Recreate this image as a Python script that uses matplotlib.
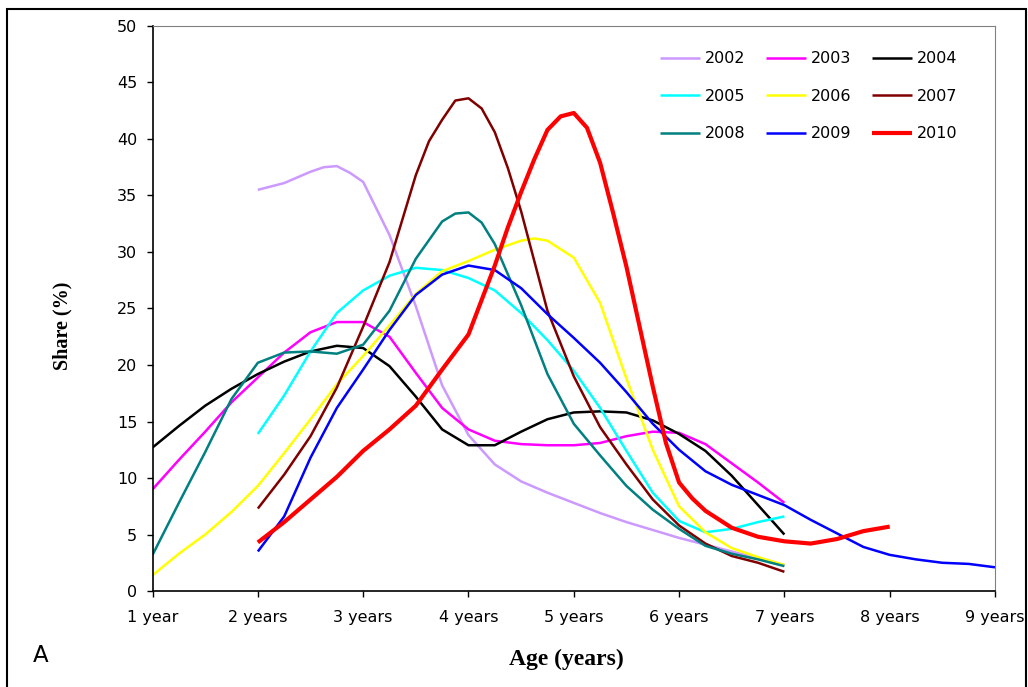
import matplotlib
matplotlib.use("Agg")
import matplotlib.pyplot as plt
from matplotlib.patches import Rectangle

plt.rcParams["font.family"] = ["DejaVu Sans"]

# ages (years) and shares (%)
a2002 = [2.0, 2.25, 2.5, 2.625, 2.75, 2.875, 3.0, 3.25, 3.5, 3.75, 4.0, 4.25, 4.5, 4.75, 5.0, 5.25,
         5.5, 5.75, 6.0, 6.25, 6.5, 6.75, 7.0]
s2002 = [35.5, 36.1, 37.1, 37.5, 37.6, 37.0, 36.2, 31.5, 25.2, 18.2, 13.8, 11.2, 9.7, 8.7, 7.8, 6.9,
         6.1, 5.4, 4.7, 4.1, 3.5, 2.9, 2.3]

a2003 = [1.0, 1.25, 1.5, 1.75, 2.0, 2.25, 2.5, 2.75, 3.0, 3.25, 3.5, 3.75, 4.0, 4.25, 4.5, 4.75,
         5.0, 5.25, 5.5, 5.75, 6.0, 6.25, 6.5, 6.75, 7.0]
s2003 = [9.0, 11.6, 14.1, 16.7, 18.9, 21.1, 22.9, 23.8, 23.8, 22.5, 19.3, 16.2, 14.3, 13.3, 13.0, 12.9,
         12.9, 13.1, 13.7, 14.1, 14.0, 13.0, 11.3, 9.6, 7.8]

a2004 = [1.0, 1.25, 1.5, 1.75, 2.0, 2.25, 2.5, 2.75, 3.0, 3.25, 3.5, 3.75, 4.0, 4.25, 4.5, 4.75,
         5.0, 5.25, 5.5, 5.75, 6.0, 6.25, 6.5, 6.75, 7.0]
s2004 = [12.7, 14.6, 16.4, 17.9, 19.2, 20.3, 21.2, 21.7, 21.5, 19.9, 17.2, 14.3, 12.9, 12.9, 14.1, 15.2,
         15.8, 15.9, 15.8, 15.1, 13.9, 12.4, 10.2, 7.6, 5.0]

a2005 = [2.0, 2.25, 2.5, 2.75, 3.0, 3.25, 3.5, 3.75, 4.0, 4.25, 4.5, 4.75, 5.0, 5.25, 5.5, 5.75,
         6.0, 6.25, 6.5, 6.75, 7.0]
s2005 = [13.9, 17.3, 21.2, 24.6, 26.6, 27.9, 28.6, 28.4, 27.7, 26.6, 24.6, 22.2, 19.5, 16.2, 12.4, 8.7,
         6.2, 5.2, 5.5, 6.1, 6.6]

a2006 = [1.0, 1.25, 1.5, 1.75, 2.0, 2.25, 2.5, 2.75, 3.0, 3.25, 3.5, 3.75, 4.0, 4.25, 4.5, 4.625, 4.75,
         5.0, 5.25, 5.5, 5.75, 6.0, 6.25, 6.5, 6.75, 7.0]
s2006 = [1.4, 3.3, 5.0, 7.0, 9.3, 12.2, 15.2, 18.3, 20.8, 23.5, 26.3, 28.3, 29.2, 30.2, 31.0, 31.2, 31.0,
         29.5, 25.5, 18.8, 12.5, 7.5, 5.2, 3.8, 3.0, 2.3]

a2007 = [2.0, 2.25, 2.5, 2.75, 3.0, 3.25, 3.5, 3.625, 3.75, 3.875, 4.0, 4.125, 4.25, 4.375, 4.5, 4.75,
         5.0, 5.25, 5.5, 5.75, 6.0, 6.25, 6.5, 6.75, 7.0]
s2007 = [7.3, 10.3, 13.7, 18.0, 23.4, 29.1, 36.8, 39.8, 41.7, 43.4, 43.6, 42.7, 40.6, 37.4, 33.6, 24.8,
         19.0, 14.5, 11.2, 8.1, 5.8, 4.2, 3.1, 2.5, 1.7]

a2008 = [1.0, 1.25, 1.5, 1.75, 2.0, 2.25, 2.5, 2.75, 3.0, 3.25, 3.5, 3.75, 3.875, 4.0, 4.125, 4.25,
         4.5, 4.75, 5.0, 5.25, 5.5, 5.75, 6.0, 6.25, 6.5, 6.75, 7.0]
s2008 = [3.2, 7.8, 12.3, 17.0, 20.2, 21.1, 21.2, 21.0, 21.8, 24.8, 29.4, 32.7, 33.4, 33.5, 32.6, 30.7,
         25.3, 19.2, 14.8, 12.0, 9.3, 7.2, 5.5, 4.0, 3.3, 2.8, 2.2]

a2009 = [2.0, 2.25, 2.5, 2.75, 3.0, 3.25, 3.5, 3.75, 4.0, 4.25, 4.5, 4.75, 5.0, 5.25, 5.5, 5.75,
         6.0, 6.25, 6.5, 6.75, 7.0, 7.25, 7.5, 7.75, 8.0, 8.25, 8.5, 8.75, 9.0]
s2009 = [3.5, 6.6, 11.8, 16.2, 19.6, 23.1, 26.2, 28.0, 28.8, 28.4, 26.8, 24.5, 22.4, 20.2, 17.6, 14.8,
         12.5, 10.6, 9.4, 8.5, 7.6, 6.3, 5.1, 3.9, 3.2, 2.8, 2.5, 2.4, 2.1]

a2010 = [2.0, 2.25, 2.5, 2.75, 3.0, 3.25, 3.5, 3.75, 4.0, 4.25, 4.375, 4.5, 4.625, 4.75, 4.875, 5.0,
         5.125, 5.25, 5.375, 5.5, 5.75, 5.875, 6.0, 6.125, 6.25, 6.5, 6.75, 7.0, 7.25, 7.5, 7.75, 8.0]
s2010 = [4.3, 6.1, 8.1, 10.1, 12.4, 14.3, 16.4, 19.6, 22.7, 28.8, 32.2, 35.3, 38.2, 40.8, 42.0, 42.3,
         41.0, 37.9, 33.4, 28.7, 18.1, 13.1, 9.6, 8.2, 7.1, 5.6, 4.8, 4.4, 4.2, 4.6, 5.3, 5.7]

series = [
    ("2002", a2002, s2002, "#CC99FF", 1.8),
    ("2003", a2003, s2003, "#FF00FF", 1.8),
    ("2004", a2004, s2004, "#000000", 1.8),
    ("2005", a2005, s2005, "#00FFFF", 1.8),
    ("2006", a2006, s2006, "#FFFF00", 1.8),
    ("2007", a2007, s2007, "#800000", 1.8),
    ("2008", a2008, s2008, "#008080", 1.8),
    ("2009", a2009, s2009, "#0000FF", 1.8),
    ("2010", a2010, s2010, "#FF0000", 3.0),
]

xticks = [1, 2, 3, 4, 5, 6, 7, 8, 9]
xlabels = ["1 year", "2 years", "3 years", "4 years", "5 years", "6 years", "7 years", "8 years", "9 years"]

fig = plt.figure(figsize=(10.28, 6.87), dpi=100)
ax = fig.add_axes([0.1484, 0.1397, 0.8195, 0.8225])

lines = []
for name, x, y, c, lw in series:
    l, = ax.plot(x, y, color=c, lw=lw, label=name, solid_joinstyle="round", solid_capstyle="butt")
    lines.append(l)

ax.set_xlim(1, 9)
ax.set_ylim(0, 50)
ax.set_yticks(range(0, 51, 5))
ax.set_xticks(xticks)
ax.set_xticklabels(xlabels)
ax.tick_params(direction="out", length=4, width=1, labelsize=11.5, color="black")
ax.tick_params(axis="x", pad=9.5)
ax.tick_params(axis="y", pad=7)
ax.spines[["top", "right"]].set_color("#808080")
ax.spines[["left", "bottom"]].set_linewidth(1.2)

ax.text(62 / 1028, 1 - 326 / 687, "Share (%)", transform=fig.transFigure, rotation=90,
        ha="center", va="center", family="Liberation Serif", fontweight="bold", fontsize=14.5)
fig.text(566 / 1028, 1 - 659 / 687, "Age (years)", ha="center", va="center",
         family="Liberation Serif", fontweight="bold", fontsize=17)

# legend is filled row by row in the original
order = [0, 3, 6, 1, 4, 7, 2, 5, 8]
ax.legend([lines[i] for i in order], [series[i][0] for i in order], ncol=3, loc="upper left",
          bbox_to_anchor=(0.602, 0.955), frameon=False, fontsize=11.5,
          handlelength=2.5, handletextpad=0.35, columnspacing=1.25, labelspacing=1.4,
          borderpad=0, borderaxespad=0)

fig.text(41 / 1028, 1 - 656 / 687, "A", fontsize=16.5, ha="center", va="center")
fig.patches.append(Rectangle((7 / 1028, -0.01), 1019 / 1028, 1 - 9 / 687 + 0.01,
                             transform=fig.transFigure, fill=False, ec="black", lw=1.5))

plt.savefig("out.png", dpi=100)
